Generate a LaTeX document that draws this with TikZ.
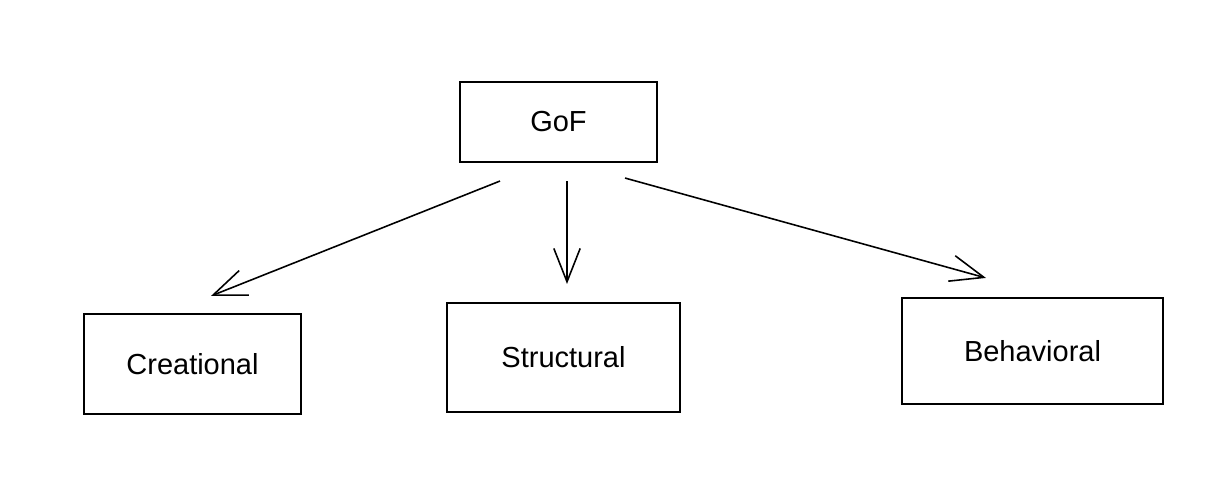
\documentclass[tikz,border=0pt]{standalone}
\usepackage{fontspec}
\setmainfont{Liberation Sans}
\usepackage{tikz}
\usetikzlibrary{calc, positioning, arrows.meta}

\begin{document}
\begin{tikzpicture}[x=0.02cm, y=-0.02cm,
        box/.style={draw, line width=1.2pt, inner sep=0pt, font=\fontsize{16.5}{18}\selectfont},
        pointer/.style={line width=0.9pt, -{Straight Barb[length=19pt, width=15pt]}}]
            \useasboundingbox (0,0) rectangle (1230,482);

            \node[box, minimum width=3.94cm, minimum height=1.6cm] (gof) at (558.5,122) {GoF};
            \node[box, minimum width=4.34cm, minimum height=2cm] (creational) at (192.5,364) {Creational};
            \node[box, minimum width=4.66cm, minimum height=2.18cm] (structural) at (563.5,357.5) {Structural};
            \node[box, minimum width=5.22cm, minimum height=2.12cm] (behavioral) at (1032.5,351) {Behavioral};

            \draw[pointer] ($(gof.south)+(-58.5,18)$) -- ($(creational.north)+(18.5,-17)$);
            \draw[pointer] ($(gof.south)+(8.5,18)$) -- ($(structural.north)+(3.5,-18)$);
            \draw[pointer] ($(gof.south)+(66.5,15)$) -- ($(behavioral.north)+(-46.5,-19)$);
        \end{tikzpicture}
\end{document}
